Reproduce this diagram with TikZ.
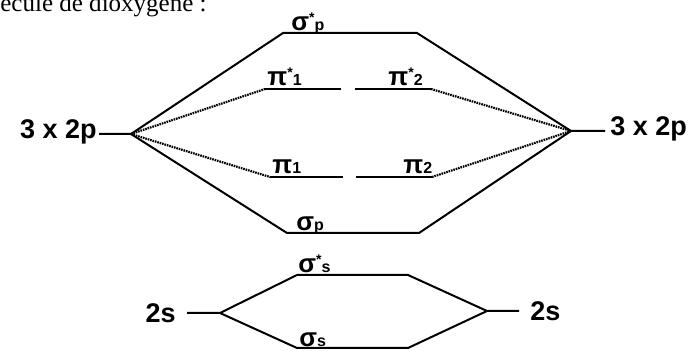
\documentclass[tikz,border=0pt]{standalone}
\usepackage{fontspec}
\setmainfont{Liberation Sans}
\newfontfamily\notefont{Liberation Serif}
\usetikzlibrary{positioning}

\newcommand{\antiorb}[2]{#1\raisebox{0.6ex}{\scriptsize *}{\footnotesize #2}}
\newcommand{\bondorb}[2]{#1{\footnotesize #2}}

\tikzset{
    level/.style={line width=1pt, line join=round},
    weak/.style={line width=1.1pt, dash pattern=on 0.8pt off 0.45pt},
    atom/.style={font=\fontsize{13.5}{16}\bfseries\selectfont, inner sep=0pt},
    orb/.style={font=\fontsize{13}{15}\bfseries\selectfont, inner sep=0pt, anchor=base west}
}

\begin{document}
\begin{tikzpicture}[x=0.5pt, y=-0.5pt]
    \useasboundingbox (0,0) rectangle (695,351);

    \node[anchor=base west, inner sep=0pt, font=\notefont\fontsize{12.5}{14}\selectfont] (note) at (0,12) {écule de dioxygène :};

    % 2p levels
    \coordinate (pLend) at (99,134);
    \coordinate (pL) at (131,134);
    \coordinate (pR) at (571,131);
    \coordinate (pRend) at (605,131);
    \coordinate (spsA) at (283,33);
    \coordinate (spsB) at (417,33);
    \coordinate (ps1A) at (265,89);
    \coordinate (ps1B) at (341,89);
    \coordinate (ps2A) at (355,89);
    \coordinate (ps2B) at (431,89);
    \coordinate (p1A) at (270,177);
    \coordinate (p1B) at (343,177);
    \coordinate (p2A) at (356,177);
    \coordinate (p2B) at (432,177);
    \coordinate (spA) at (287,233);
    \coordinate (spB) at (419,233);

    \draw[level] (pLend) -- (pL) -- (spsA) -- (spsB) -- (pR) -- (pRend);
    \draw[level] (pL) -- (spA) -- (spB) -- (pR);
    \draw[level] (ps1A) -- (ps1B);
    \draw[level] (ps2A) -- (ps2B);
    \draw[level] (p1A) -- (p1B);
    \draw[level] (p2A) -- (p2B);
    \draw[weak] (pL) -- (ps1A);
    \draw[weak] (ps2B) -- (pR);
    \draw[weak] (pL) -- (p1A);
    \draw[weak] (p2B) -- (pR);

    \node[atom, left=1pt of pLend, yshift=1.3pt] (pleft) {3 x 2p};
    \node[atom, right=2.5pt of pRend, yshift=1.3pt] (pright) {3 x 2p};

    \node[orb] (lsps) at (291,31) {\antiorb{σ}{p}};
    \node[orb] (lps1) at (267,86) {\antiorb{π}{1}};
    \node[orb] (lps2) at (388,86) {\antiorb{π}{2}};
    \node[orb] (lp1) at (272,174) {\bondorb{π}{1}};
    \node[orb] (lp2) at (403,174) {\bondorb{π}{2}};
    \node[orb] (lsp) at (296,231) {\bondorb{σ}{p}};

    % 2s levels
    \coordinate (sLend) at (187,313);
    \coordinate (sL) at (220,313);
    \coordinate (sR) at (487,311);
    \coordinate (sRend) at (519,311);
    \coordinate (ssA) at (297,275);
    \coordinate (ssB) at (408,275);
    \coordinate (sA) at (297,348);
    \coordinate (sB) at (408,348);

    \draw[level] (sLend) -- (sL) -- (ssA) -- (ssB) -- (sR) -- (sRend);
    \draw[level] (sL) -- (sA) -- (sB) -- (sR);

    \node[atom, left=5.5pt of sLend] (sleft) {2s};
    \node[atom, right=5.5pt of sRend] (sright) {2s};

    \node[orb] (lss) at (298,273) {\antiorb{σ}{s}};
    \node[orb] (ls) at (299,346.5) {\bondorb{σ}{s}};
\end{tikzpicture}
\end{document}
